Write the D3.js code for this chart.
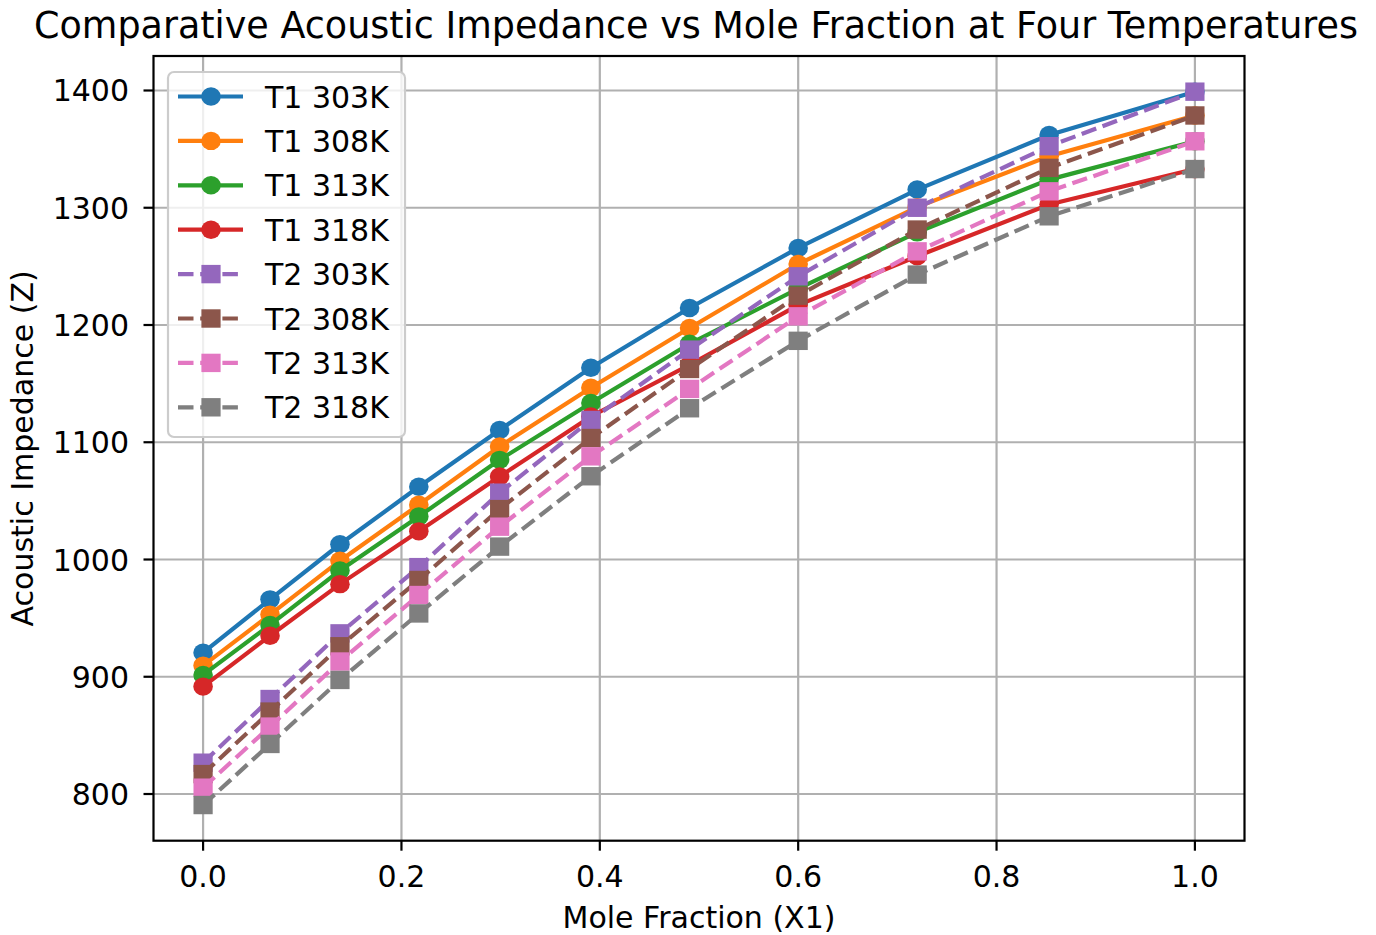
<!DOCTYPE html>
<html>
<head>
<meta charset="utf-8">
<script src="https://cdn.jsdelivr.net/npm/d3@7"></script>
<style>
  body { margin: 0; background: #fff; }
  text { font-family: "DejaVu Sans", sans-serif; fill: #000; }
</style>
</head>
<body>
<script>
// mole fractions and impedance values
const moleFraction = [0, 0.0675, 0.138, 0.2175, 0.299, 0.391, 0.4905, 0.600, 0.720, 0.853, 1.0]

const t1_303 = [920.5, 966, 1013, 1062, 1110.5, 1163.6, 1214.5, 1265.7, 1315.5, 1362, 1399]
const t1_308 = [909.5, 953, 999, 1046.7, 1096.4, 1146.5, 1197.4, 1252, 1300.5, 1344, 1378.7]
const t1_313 = [901.6, 944.2, 990.6, 1036.7, 1085, 1133.5, 1184, 1231, 1279, 1324, 1356.7]
const t1_318 = [891.6, 935, 979, 1024, 1070.8, 1122, 1166, 1217, 1258.6, 1302.7, 1333]
const t2_303 = [826.7, 881, 937, 993.5, 1057, 1119, 1179, 1241.5, 1300, 1352.5, 1399]
const t2_308 = [817, 870.3, 926, 982.5, 1043, 1103.6, 1162.5, 1225, 1281.4, 1334, 1378.7]
const t2_313 = [805.4, 857.5, 913, 969.7, 1028, 1088, 1145.5, 1207.4, 1262.8, 1314, 1356.7]
const t2_318 = [790.6, 842.7, 897.3, 954, 1011, 1071, 1129, 1186.5, 1243, 1292.7, 1333]

const seriesNames = ["T1 303K", "T1 308K", "T1 313K", "T1 318K", "T2 303K", "T2 308K", "T2 313K", "T2 318K"]
const seriesValues = [t1_303, t1_308, t1_313, t1_318, t2_303, t2_308, t2_313, t2_318]
const colors = ["#1f77b4", "#ff7f0e", "#2ca02c", "#d62728", "#9467bd", "#8c564b", "#e377c2", "#7f7f7f"]

const xTicks = [0, 0.2, 0.4, 0.6, 0.8, 1.0]
const yTicks = [800, 900, 1000, 1100, 1200, 1300, 1400]

const width = 1376, height = 935
const fontSize = 30, titleSize = 36.5
const plotL = 153.5, plotR = 1244.5, plotT = 56, plotB = 840.7

const svg = d3.select("body").append("svg")
  .attr("width", width)
  .attr("height", height)

const allY = seriesValues.flat()
const yMin = d3.min(allY), yMax = d3.max(allY)
const pad = (yMax - yMin) * 0.05

const x = d3.scaleLinear().domain([-0.05, 1.05]).range([plotL, plotR])
const y = d3.scaleLinear().domain([yMin - pad, yMax + pad]).range([plotB, plotT])

function stext(g, px, py, str, size, anchor) {
  return g.append("text")
    .attr("x", px).attr("y", py)
    .attr("text-anchor", anchor || "start")
    .style("font-size", size + "px")
    .text(str)
}

// grid
const grid = svg.append("g")
grid.selectAll(".gx").data(xTicks).enter().append("line")
  .attr("x1", d => x(d)).attr("x2", d => x(d))
  .attr("y1", plotT).attr("y2", plotB)
  .style("stroke", "#b0b0b0").style("stroke-width", 2.2)
grid.selectAll(".gy").data(yTicks).enter().append("line")
  .attr("x1", plotL).attr("x2", plotR)
  .attr("y1", d => y(d)).attr("y2", d => y(d))
  .style("stroke", "#b0b0b0").style("stroke-width", 2.2)

// series
const line = d3.line()
  .x((d, i) => x(moleFraction[i]))
  .y(d => y(d))

const plot = svg.append("g")
seriesValues.forEach(function(vals, s) {
  const g = plot.append("g")
  g.append("path")
    .attr("d", line(vals))
    .style("fill", "none")
    .style("stroke", colors[s])
    .style("stroke-width", 4.2)
    .style("stroke-dasharray", s >= 4 ? "15.5,6.7" : null)
  if (s < 4) {
    g.selectAll("ellipse").data(vals).enter().append("ellipse")
      .attr("cx", (d, i) => x(moleFraction[i]))
      .attr("cy", d => y(d))
      .attr("rx", 9.8).attr("ry", 9.2)
      .style("fill", colors[s])
  } else {
    g.selectAll("rect").data(vals).enter().append("rect")
      .attr("x", (d, i) => x(moleFraction[i]) - 9.6)
      .attr("y", d => y(d) - 9.2)
      .attr("width", 19.2).attr("height", 18.4)
      .style("fill", colors[s])
  }
})

// frame
svg.append("rect")
  .attr("x", plotL).attr("y", plotT)
  .attr("width", plotR - plotL).attr("height", plotB - plotT)
  .style("fill", "none").style("stroke", "#000").style("stroke-width", 2.2)

// ticks
const axes = svg.append("g")
xTicks.forEach(function(t) {
  axes.append("line")
    .attr("x1", x(t)).attr("x2", x(t))
    .attr("y1", plotB).attr("y2", plotB + 10)
    .style("stroke", "#000").style("stroke-width", 2.2)
  stext(axes, x(t), 887, d3.format(".1f")(t), fontSize, "middle")
})
yTicks.forEach(function(t) {
  axes.append("line")
    .attr("x1", plotL - 10).attr("x2", plotL)
    .attr("y1", y(t)).attr("y2", y(t))
    .style("stroke", "#000").style("stroke-width", 2.2)
  stext(axes, 129, y(t) + 11, t, fontSize, "end")
})

// labels
stext(svg, (plotL + plotR) / 2, 928, "Mole Fraction (X1)", fontSize, "middle")
svg.append("text")
  .attr("transform", `translate(33,${(plotT + plotB) / 2}) rotate(-90)`)
  .attr("text-anchor", "middle")
  .style("font-size", fontSize + "px")
  .text("Acoustic Impedance (Z)")
stext(svg, (plotL + plotR) / 2 - 3, 38, "Comparative Acoustic Impedance vs Mole Fraction at Four Temperatures", titleSize, "middle")

// legend
const legend = svg.append("g")
legend.append("rect")
  .attr("x", 168).attr("y", 72)
  .attr("width", 237).attr("height", 365)
  .attr("rx", 6)
  .style("fill", "#fff").style("fill-opacity", 0.8)
  .style("stroke", "#cccccc").style("stroke-width", 2.2)

seriesNames.forEach(function(name, s) {
  const ly = 96.5 + s * 44.4
  legend.append("line")
    .attr("x1", 178).attr("x2", 243)
    .attr("y1", ly).attr("y2", ly)
    .style("stroke", colors[s])
    .style("stroke-width", 4.2)
    .style("stroke-dasharray", s >= 4 ? "15.5,6.7" : null)
  if (s < 4) {
    legend.append("ellipse")
      .attr("cx", 211).attr("cy", ly)
      .attr("rx", 9.8).attr("ry", 9.2)
      .style("fill", colors[s])
  } else {
    legend.append("rect")
      .attr("x", 211 - 9.6).attr("y", ly - 9.2)
      .attr("width", 19.2).attr("height", 18.4)
      .style("fill", colors[s])
  }
  stext(legend, 265, ly + 11, name, fontSize, "start")
})
</script>
</body>
</html>
